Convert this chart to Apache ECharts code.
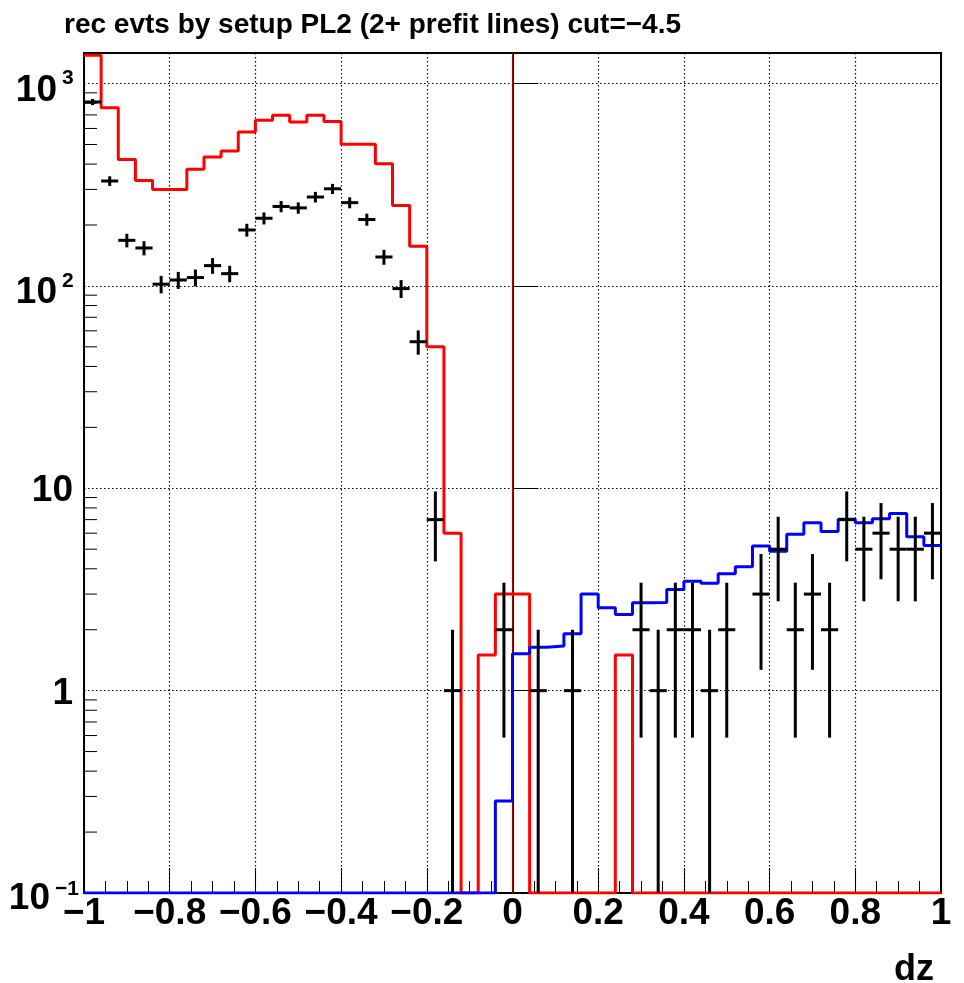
<!DOCTYPE html>
<html><head><meta charset="utf-8">
<script src="https://cdn.jsdelivr.net/npm/echarts@6/dist/echarts.min.js"></script>
<style>html,body{margin:0;padding:0;background:#fff}#c{width:964px;height:983px}</style>
</head><body><div id="c"></div>
<script>
// ---------- data ----------
const titleText = 'rec evts by setup PL2 (2+ prefit lines) cut=\u22124.5';
const xTitle = 'dz';
const binLow = -1, binWidth = 0.04, nBins = 50;
const xTickValues = [-1, -0.8, -0.6, -0.4, -0.2, 0, 0.2, 0.4, 0.6, 0.8, 1];
const xTickLabels = ['\u22121', '\u22120.8', '\u22120.6', '\u22120.4', '\u22120.2', '0', '0.2', '0.4', '0.6', '0.8', '1'];
const yDecadeExp = [-1, 0, 1, 2, 3];
const yTickBase = ['10', '1', '10', '10', '10'];
const yTickSup = ['\u22121', '', '', '2', '3'];
const yMin = 0.1, yMax = 1416;
// red histogram (bin contents, 50 bins from -1 to 1)
const redHist = [1380, 759, 422, 332, 300, 300, 377, 434, 464, 577,
                 658, 697, 646, 697, 650, 501, 501, 402, 250, 157,
                 50, 6, 0, 1.5, 3, 3, 0, 0, 0, 0,
                 0, 1.5, 0, 0, 0, 0, 0, 0, 0, 0,
                 0, 0, 0, 0, 0, 0, 0, 0, 0, 0];
// blue histogram
const blueHist = [0, 0, 0, 0, 0, 0, 0, 0, 0, 0,
                  0, 0, 0, 0, 0, 0, 0, 0, 0, 0,
                  0, 0, 0, 0, 0.285, 1.52, 1.64, 1.66, 1.91, 3.0,
                  2.57, 2.38, 2.72, 2.73, 3.16, 3.47, 3.39, 3.78, 4.09, 5.18,
                  4.89, 5.92, 6.76, 6.11, 7.03, 6.76, 7.08, 7.5, 5.76, 5.22];
// black data points (counts)
const dataCounts = [811, 330, 168, 154, 102, 107, 110, 126, 115, 189,
                    216, 247, 243, 275, 302, 258, 213, 139, 97, 53,
                    7, 1, 0, 0, 2, 0, 1, 0, 1, 0,
                    0, 0, 2, 1, 2, 2, 1, 2, 0, 3,
                    5, 2, 3, 2, 7, 5, 6, 5, 5, 6];

// ---------- helpers ----------
const FONT = '"Liberation Sans", Arial, Helvetica, sans-serif';

function stepData(h) {
  const pts = h.map((v, i) => [binLow + i * binWidth, v > 0 ? v : yMin]);
  pts.push([binLow + nBins * binWidth, h[nBins - 1] > 0 ? h[nBins - 1] : yMin]);
  return pts;
}
const pointData = dataCounts.map((n, i) => [binLow + (i + 0.5) * binWidth, n]);
const yMinorVals = [];
yDecadeExp.slice(0, 4).forEach(e => { for (let k = 2; k <= 9; k++) yMinorVals.push([binLow, k * Math.pow(10, e)]); });
const yLabelData = yDecadeExp.map((e, i) => [binLow, Math.pow(10, e), i]);

function xLabel(v) {
  for (let i = 0; i < xTickValues.length; i++) if (Math.abs(xTickValues[i] - v) < 1e-9) return xTickLabels[i];
  return '';
}
const gridDots = {color: '#000', width: 1.2, type: [1.5, 2.5]};

const chart = echarts.init(document.getElementById('c'), null, {renderer: 'canvas'});
chart.setOption({
  animation: false,
  backgroundColor: '#fff',
  title: [
    {text: titleText, left: 59, top: 6,
     textStyle: {fontFamily: FONT, fontWeight: 'bold', fontSize: 28, color: '#000'}},
    {text: xTitle, right: 25, top: 947,
     textStyle: {fontFamily: FONT, fontWeight: 'bold', fontSize: 36, color: '#000'}}
  ],
  grid: {left: 84, top: 53, width: 857, height: 840, show: true,
         borderColor: '#000', borderWidth: 2, backgroundColor: 'transparent'},
  xAxis: {
    type: 'value', min: -1, max: 1, interval: 0.2,
    axisLine: {show: true, onZero: false, lineStyle: {color: '#000', width: 2}},
    axisTick: {show: true, inside: true, length: 25, lineStyle: {color: '#000', width: 1}},
    minorTick: {show: true, splitNumber: 4, length: 12, lineStyle: {color: '#000', width: 1}},
    splitLine: {show: true, lineStyle: gridDots},
    axisLabel: {show: true, margin: 2, showMinLabel: true, showMaxLabel: true,
      formatter: xLabel, fontFamily: FONT, fontWeight: 'bold', fontSize: 37, color: '#000'}
  },
  yAxis: {
    type: 'log', logBase: 10, min: yMin, max: yMax,
    axisLine: {show: true, lineStyle: {color: '#000', width: 2}},
    axisTick: {show: true, inside: true, length: 26, lineStyle: {color: '#000', width: 1}},
    minorTick: {show: false},
    splitLine: {show: true, lineStyle: gridDots},
    axisLabel: {show: false}
  },
  series: [
    {type: 'custom', name: 'yminor', coordinateSystem: 'cartesian2d', z: 1, silent: true,
     data: yMinorVals,
     renderItem: function (params, api) {
       const p = api.coord([api.value(0), api.value(1)]);
       return {type: 'line', shape: {x1: p[0], y1: p[1], x2: p[0] + 13, y2: p[1]},
               style: {stroke: '#000', lineWidth: 1}};
     }},
    {type: 'custom', name: 'ylabels', coordinateSystem: 'cartesian2d', z: 1, silent: true, clip: false,
     data: yLabelData,
     renderItem: function (params, api) {
       const p = api.coord([api.value(0), api.value(1)]);
       const i = api.value(2);
       const base = yTickBase[i], sup = yTickSup[i];
       const big = 'bold 37px ' + FONT, small = 'bold 21px ' + FONT;
       if (!sup) {
         return {type: 'text', style: {text: base, x: p[0] - 11, y: p[1] + 3, font: big,
                 align: 'right', verticalAlign: 'middle', fill: '#000'}};
       }
       const neg = sup.charAt(0) === '\u2212';
       const baseRight = p[0] - (neg ? 34 : 27);
       return {type: 'group', children: [
         {type: 'text', style: {text: base, x: baseRight, y: p[1] + (neg ? 6 : 7), font: big,
           align: 'right', verticalAlign: 'middle', fill: '#000'}},
         {type: 'text', style: {text: sup, x: baseRight + 5, y: p[1] - (neg ? 4 : 5), font: small,
           align: 'left', verticalAlign: 'middle', fill: '#000'}}
       ]};
     }},
    {type: 'line', name: 'red', data: stepData(redHist), step: 'end', showSymbol: false, symbol: 'none',
     lineStyle: {color: '#ff0000', width: 3}, z: 3, clip: true,
     markLine: {silent: true, symbol: 'none', label: {show: false}, z: 2,
       lineStyle: {color: '#a80000', width: 1, type: 'solid'}, data: [{xAxis: 0}]}},
    {type: 'line', name: 'blue', data: stepData(blueHist), step: 'end', showSymbol: false, symbol: 'none',
     lineStyle: {color: '#0000ff', width: 3}, z: 4, clip: true},
    {type: 'custom', name: 'data', coordinateSystem: 'cartesian2d', z: 5, clip: true,
     data: pointData,
     renderItem: function (params, api) {
       const xc = api.value(0), n = api.value(1);
       if (!(n > 0)) return null;
       const err = Math.sqrt(n);
       const lo = n - err > yMin ? n - err : yMin;
       const hi = Math.min(n + err, yMax);
       const a = api.coord([xc - binWidth / 2, n]);
       const b = api.coord([xc + binWidth / 2, n]);
       const c = api.coord([xc, hi]);
       const d = api.coord([xc, lo]);
       return {type: 'group', children: [
         {type: 'line', shape: {x1: a[0], y1: a[1], x2: b[0], y2: b[1]}, style: {stroke: '#000', lineWidth: 3}},
         {type: 'line', shape: {x1: c[0], y1: c[1], x2: d[0], y2: d[1]}, style: {stroke: '#000', lineWidth: 3}}
       ]};
     }}
  ]
});
</script>
</body></html>
